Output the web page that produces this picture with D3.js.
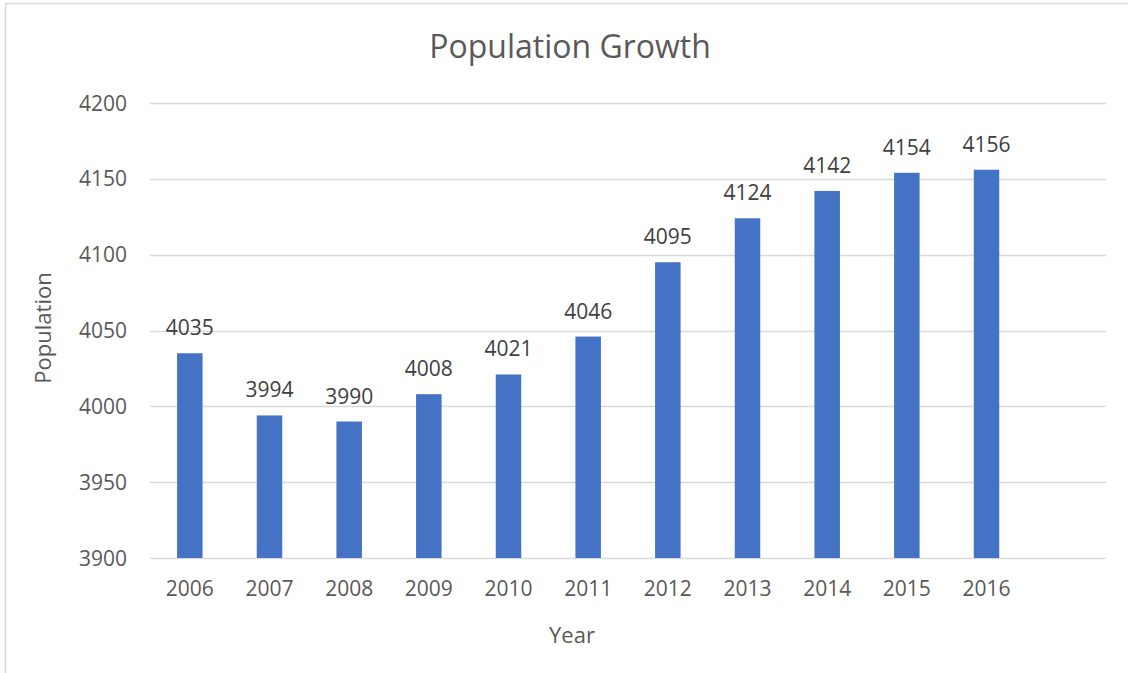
<!DOCTYPE html>
<html>
<head>
<meta charset="utf-8">
<script src="https://cdn.jsdelivr.net/npm/d3@7"></script>
<style>
  html, body { margin: 0; padding: 0; background: #fff; }
  svg text { font-family: "Open Sans", "Liberation Sans", sans-serif; }
</style>
</head>
<body>
<svg id="chart"></svg>
<script>
// chart data
const years = ['2006', '2007', '2008', '2009', '2010', '2011', '2012', '2013', '2014', '2015', '2016', ''];
const population = [4035, 3994, 3990, 4008, 4021, 4046, 4095, 4124, 4142, 4154, 4156];
const yTicks = [3900, 3950, 4000, 4050, 4100, 4150, 4200];

const width = 1128, height = 673;
const margin = {top: 103, right: 22, bottom: 115, left: 150};

const svg = d3.select('#chart')
  .attr('width', width)
  .attr('height', height);

// outer frame (right and bottom edges fall outside the view)
svg.append('rect')
  .attr('x', 5.5).attr('y', 3.5)
  .attr('width', width + 10).attr('height', height + 10)
  .attr('fill', '#fff')
  .attr('stroke', '#d9d9d9')
  .attr('stroke-width', 1.5);

const x = d3.scaleBand()
  .domain(years)
  .range([margin.left, width - margin.right])
  .paddingInner(0.68)
  .paddingOuter(0.34);

const y = d3.scaleLinear()
  .domain([3900, 4200])
  .range([height - margin.bottom, margin.top]);

// gridlines
svg.append('g')
  .selectAll('line')
  .data(yTicks)
  .enter().append('line')
  .attr('x1', margin.left)
  .attr('x2', width - margin.right)
  .attr('y1', d => Math.round(y(d)) + 0.5)
  .attr('y2', d => Math.round(y(d)) + 0.5)
  .attr('stroke', '#d9d9d9')
  .attr('stroke-width', 1.5);

// y tick labels
svg.append('g')
  .selectAll('text')
  .data(yTicks)
  .enter().append('text')
  .attr('x', 127)
  .attr('y', d => y(d))
  .attr('dy', '0.36em')
  .attr('text-anchor', 'end')
  .attr('font-size', 21)
  .attr('fill', '#595959')
  .text(d => d);

// bars
const barData = population.map((v, i) => ({year: years[i], value: v}));
svg.append('g')
  .selectAll('rect')
  .data(barData)
  .enter().append('rect')
  .attr('x', d => x(d.year))
  .attr('width', x.bandwidth())
  .attr('y', d => y(d.value))
  .attr('height', d => y(3900) - y(d.value))
  .attr('fill', '#4472c4');

// data labels
svg.append('g')
  .selectAll('text')
  .data(barData)
  .enter().append('text')
  .attr('x', d => x(d.year) + x.bandwidth() / 2)
  .attr('y', d => y(d.value) - 18)
  .attr('text-anchor', 'middle')
  .attr('font-size', 21)
  .attr('fill', '#404040')
  .text(d => d.value);

// x tick labels
svg.append('g')
  .selectAll('text')
  .data(years.filter(d => d !== ''))
  .enter().append('text')
  .attr('x', d => x(d) + x.bandwidth() / 2)
  .attr('y', 596)
  .attr('text-anchor', 'middle')
  .attr('font-size', 21)
  .attr('fill', '#595959')
  .text(d => d);

// title
svg.append('text')
  .attr('x', 570)
  .attr('y', 58)
  .attr('text-anchor', 'middle')
  .attr('font-size', 32)
  .attr('fill', '#595959')
  .text('Population Growth');

// axis titles
svg.append('text')
  .attr('x', 572)
  .attr('y', 643)
  .attr('text-anchor', 'middle')
  .attr('font-size', 22)
  .attr('fill', '#595959')
  .text('Year');

svg.append('text')
  .attr('transform', 'translate(51,328) rotate(-90)')
  .attr('text-anchor', 'middle')
  .attr('font-size', 22)
  .attr('fill', '#595959')
  .text('Population');
</script>
</body>
</html>
